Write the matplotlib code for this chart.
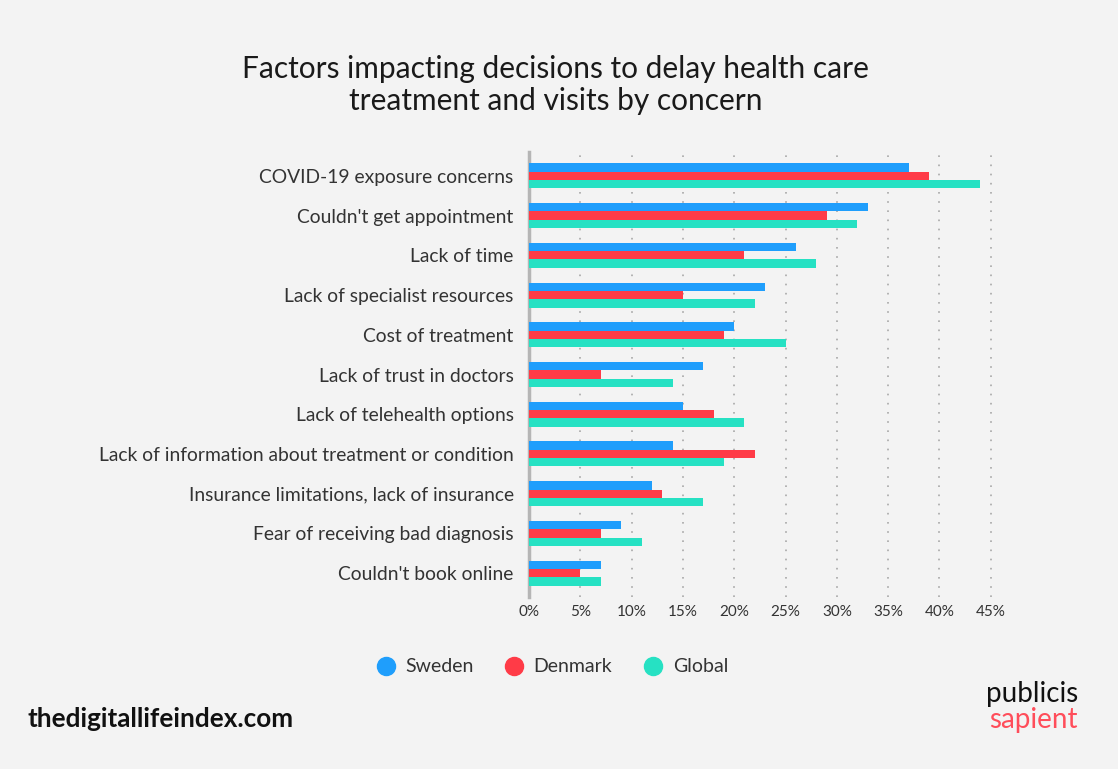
import numpy as np
import matplotlib.pyplot as plt

plt.rcParams['font.family'] = ['Lato', 'DejaVu Sans']

# survey answers, share of respondents (%)
factors = [
    "COVID-19 exposure concerns",
    "Couldn't get appointment",
    "Lack of time",
    "Lack of specialist resources",
    "Cost of treatment",
    "Lack of trust in doctors",
    "Lack of telehealth options",
    "Lack of information about treatment or condition",
    "Insurance limitations, lack of insurance",
    "Fear of receiving bad diagnosis",
    "Couldn't book online",
]
sweden = [37, 33, 26, 23, 20, 17, 15, 14, 12, 9, 7]
denmark = [39, 29, 21, 15, 19, 7, 18, 22, 13, 7, 5]
global_ = [44, 32, 28, 22, 25, 14, 21, 19, 17, 11, 7]
xticks = [0, 5, 10, 15, 20, 25, 30, 35, 40, 45]

colors = {'Sweden': '#1f9efc', 'Denmark': '#ff3b47', 'Global': '#26e1c3'}
bg = '#f3f3f3'

fig = plt.figure(figsize=(11.18, 7.69), dpi=100, facecolor=bg)
ax = fig.add_axes([529 / 1118, 172 / 769, 472 / 1118, 445 / 769], facecolor=bg)

y = np.arange(len(factors))
h = 0.21
ax.barh(y - h, sweden, height=h, color=colors['Sweden'], label='Sweden', zorder=3)
ax.barh(y, denmark, height=h, color=colors['Denmark'], label='Denmark', zorder=3)
ax.barh(y + h, global_, height=h, color=colors['Global'], label='Global', zorder=3)

ax.set_xlim(0, 46)
ax.set_ylim(len(factors) - 0.4, -0.6)
ax.set_xticks(xticks)
ax.set_xticklabels([f'{t}%' for t in xticks])
ax.set_yticks(y)
ax.set_yticklabels(factors)
ax.tick_params(axis='both', length=0, colors='#333333')
ax.tick_params(axis='y', labelsize=13.9, pad=11)
ax.tick_params(axis='x', labelsize=11, pad=6)

for t in xticks[1:]:
    ax.axvline(t, color='#a8a8a8', linestyle=(0, (1, 4.5)), linewidth=1.2, zorder=1)

for s in ['top', 'right', 'bottom']:
    ax.spines[s].set_visible(False)
ax.spines['left'].set_color('#b5b5b5')
ax.spines['left'].set_linewidth(2.5)

fig.text(0.497, 1 - 85 / 769, 'Factors impacting decisions to delay health care\ntreatment and visits by concern',
         ha='center', va='center', fontsize=21.5, color='#1a1a1a', linespacing=1.15)

# legend with round markers
handles = [plt.Line2D([], [], marker='o', linestyle='', markersize=13, color=c) for c in colors.values()]
fig.legend(handles, list(colors.keys()), loc='center', bbox_to_anchor=(552 / 1118, 1 - 667 / 769),
           ncol=3, frameon=False, fontsize=14, handlelength=1.0, handletextpad=0.5,
           columnspacing=1.6, labelcolor='#333333')

fig.text(28 / 1118, 1 - 719 / 769, 'thedigitallifeindex.com', ha='left', va='center',
         fontsize=18.8, fontweight='bold', color='#111111')
fig.text(1078 / 1118, 1 - 694 / 769, 'publicis', ha='right', va='center',
         fontsize=20, color='#111111')
fig.text(1078 / 1118, 1 - 720 / 769, 'sapient', ha='right', va='center',
         fontsize=20, color='#ff4d5a')

fig.savefig('out.png', dpi=100, facecolor=bg)
